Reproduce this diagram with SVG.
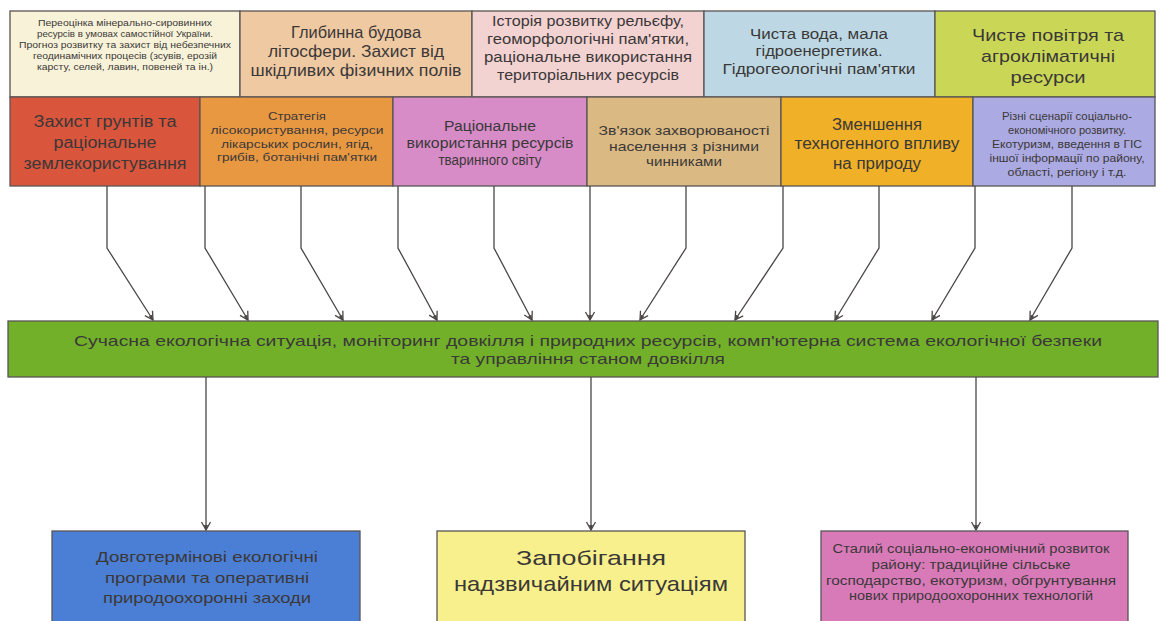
<svg xmlns="http://www.w3.org/2000/svg" width="1160" height="621" viewBox="0 0 1160 621">
<style>
text{font-family:"Liberation Sans",Arial,sans-serif;fill:#3b3838;text-anchor:middle;dominant-baseline:central}
.b{stroke:#5a5555;stroke-width:1.3}
.c{stroke:#4a4646;stroke-width:1.3;fill:none;marker-end:url(#ah)}
.s9{font-size:9.5px}.s10{font-size:10.5px}.s12{font-size:12px}.s13{font-size:13px}.s14{font-size:14px}.s15{font-size:15px}.s16{font-size:16px}.s17{font-size:17px}.s21{font-size:21px}
</style>
<defs>
<marker id="ah" markerWidth="10" markerHeight="12" refX="9" refY="6" orient="auto" markerUnits="userSpaceOnUse">
<path d="M1,1.5 L9,6 L1,10.5" fill="none" stroke="#4a4646" stroke-width="1.3"/>
<path d="M4,4 L9,6 L4,8 Z" fill="#4a4646"/>
</marker>
</defs>
<rect width="1160" height="621" fill="#ffffff"/>

<g id="t1"><rect class="b" x="10" y="11" width="230" height="86" fill="#f8f3d8"/>
<text class="s9"><tspan x="125" y="22" textLength="174" lengthAdjust="spacingAndGlyphs">Переоцінка мінерально-сировинних</tspan><tspan x="125" y="33" textLength="176" lengthAdjust="spacingAndGlyphs">ресурсів в умовах самостійної України.</tspan><tspan x="125" y="44" textLength="212" lengthAdjust="spacingAndGlyphs">Прогноз розвитку та захист від небезпечних</tspan><tspan x="125" y="55" textLength="184" lengthAdjust="spacingAndGlyphs">геодинамічних процесів (зсувів, ерозій</tspan><tspan x="125" y="66" textLength="176" lengthAdjust="spacingAndGlyphs">карсту, селей, лавин, повеней та ін.)</tspan></text></g>

<g id="t2"><rect class="b" x="240" y="11" width="232" height="86" fill="#efc9a2"/>
<text class="s17"><tspan x="356" y="32" textLength="130" lengthAdjust="spacingAndGlyphs">Глибинна будова</tspan><tspan x="356" y="51" textLength="176" lengthAdjust="spacingAndGlyphs">літосфери. Захист від</tspan><tspan x="356" y="70" textLength="211" lengthAdjust="spacingAndGlyphs">шкідливих фізичних полів</tspan></text></g>

<g id="t3"><rect class="b" x="472" y="11" width="232" height="86" fill="#f3d2d2"/>
<text class="s14"><tspan x="588" y="21" textLength="192" lengthAdjust="spacingAndGlyphs">Історія розвитку рельєфу,</tspan><tspan x="588" y="39" textLength="202" lengthAdjust="spacingAndGlyphs">геоморфологічні пам'ятки,</tspan><tspan x="588" y="57" textLength="208" lengthAdjust="spacingAndGlyphs">раціональне використання</tspan><tspan x="588" y="75" textLength="182" lengthAdjust="spacingAndGlyphs">територіальних ресурсів</tspan></text></g>

<g id="t4"><rect class="b" x="704" y="11" width="231" height="86" fill="#bdd8e4"/>
<text class="s14"><tspan x="819" y="34" textLength="138" lengthAdjust="spacingAndGlyphs">Чиста вода, мала</tspan><tspan x="819" y="51" textLength="127" lengthAdjust="spacingAndGlyphs">гідроенергетика.</tspan><tspan x="819" y="69" textLength="193" lengthAdjust="spacingAndGlyphs">Гідрогеологічні пам'ятки</tspan></text></g>

<g id="t5"><rect class="b" x="935" y="11" width="220" height="86" fill="#cad756"/>
<text class="s17"><tspan x="1048" y="35" textLength="152" lengthAdjust="spacingAndGlyphs">Чисте повітря та</tspan><tspan x="1048" y="56" textLength="134" lengthAdjust="spacingAndGlyphs">агрокліматичні</tspan><tspan x="1048" y="77" textLength="75" lengthAdjust="spacingAndGlyphs">ресурси</tspan></text></g>

<g id="m1"><rect class="b" x="10" y="97" width="190" height="89" fill="#d9553c"/>
<text class="s16"><tspan x="105" y="121" textLength="143" lengthAdjust="spacingAndGlyphs">Захист грунтів та</tspan><tspan x="105" y="142" textLength="103" lengthAdjust="spacingAndGlyphs">раціональне</tspan><tspan x="105" y="163" textLength="163" lengthAdjust="spacingAndGlyphs">землекористування</tspan></text></g>

<g id="m2"><rect class="b" x="200" y="97" width="193" height="89" fill="#e99842"/>
<text class="s10"><tspan x="297" y="116" textLength="58" lengthAdjust="spacingAndGlyphs">Стратегія</tspan><tspan x="297" y="130" textLength="173" lengthAdjust="spacingAndGlyphs">лісокористування, ресурси</tspan><tspan x="297" y="144" textLength="152" lengthAdjust="spacingAndGlyphs">лікарських рослин, ягід,</tspan><tspan x="297" y="157" textLength="160" lengthAdjust="spacingAndGlyphs">грибів, ботанічні пам'ятки</tspan></text></g>

<g id="m3"><rect class="b" x="393" y="97" width="194" height="89" fill="#d78cc8"/>
<text class="s14"><tspan x="490" y="126" textLength="92" lengthAdjust="spacingAndGlyphs">Раціональне</tspan><tspan x="490" y="143" textLength="167" lengthAdjust="spacingAndGlyphs">використання ресурсів</tspan><tspan x="490" y="160" textLength="103" lengthAdjust="spacingAndGlyphs">тваринного світу</tspan></text></g>

<g id="m4"><rect class="b" x="587" y="97" width="194" height="89" fill="#dab982"/>
<text class="s13"><tspan x="684" y="130" textLength="171" lengthAdjust="spacingAndGlyphs">Зв'язок захворюваності</tspan><tspan x="684" y="146" textLength="150" lengthAdjust="spacingAndGlyphs">населення з різними</tspan><tspan x="684" y="161" textLength="76" lengthAdjust="spacingAndGlyphs">чинниками</tspan></text></g>

<g id="m5"><rect class="b" x="781" y="97" width="192" height="89" fill="#f0b128"/>
<text class="s16"><tspan x="877" y="124" textLength="90" lengthAdjust="spacingAndGlyphs">Зменшення</tspan><tspan x="877" y="143" textLength="165" lengthAdjust="spacingAndGlyphs">техногенного впливу</tspan><tspan x="877" y="163" textLength="88" lengthAdjust="spacingAndGlyphs">на природу</tspan></text></g>

<g id="m6"><rect class="b" x="973" y="97" width="182" height="89" fill="#abaae2"/>
<text class="s10"><tspan x="1067" y="116" textLength="130" lengthAdjust="spacingAndGlyphs">Різні сценарії соціально-</tspan><tspan x="1067" y="130" textLength="118" lengthAdjust="spacingAndGlyphs">економічного розвитку.</tspan><tspan x="1067" y="144" textLength="150" lengthAdjust="spacingAndGlyphs">Екотуризм, введення в ГІС</tspan><tspan x="1067" y="158" textLength="155" lengthAdjust="spacingAndGlyphs">іншої інформації по району,</tspan><tspan x="1067" y="172" textLength="119" lengthAdjust="spacingAndGlyphs">області, регіону і т.д.</tspan></text></g>

<g id="bar"><rect class="b" x="8" y="321" width="1150" height="56" fill="#72b02a"/>
<text class="s15"><tspan x="588" y="340" textLength="1028" lengthAdjust="spacingAndGlyphs">Сучасна екологічна ситуація, моніторинг довкілля і природних ресурсів, комп'ютерна система екологічної безпеки</tspan><tspan x="588" y="358" textLength="274" lengthAdjust="spacingAndGlyphs">та управління станом довкілля</tspan></text></g>

<g id="b1"><rect class="b" x="52" y="531" width="308" height="100" fill="#4b7fd6"/>
<text class="s15"><tspan x="207" y="556" textLength="222" lengthAdjust="spacingAndGlyphs">Довготермінові екологічні</tspan><tspan x="207" y="577" textLength="204" lengthAdjust="spacingAndGlyphs">програми та оперативні</tspan><tspan x="207" y="597" textLength="208" lengthAdjust="spacingAndGlyphs">природоохоронні заходи</tspan></text></g>

<g id="b2"><rect class="b" x="437" y="531" width="308" height="100" fill="#f8f08c"/>
<text class="s21"><tspan x="591" y="557" textLength="150" lengthAdjust="spacingAndGlyphs">Запобігання</tspan><tspan x="591" y="583" textLength="274" lengthAdjust="spacingAndGlyphs">надзвичайним ситуаціям</tspan></text></g>

<g id="b3"><rect class="b" x="821" y="531" width="307" height="100" fill="#d87ab8"/>
<text class="s12"><tspan x="971" y="549" textLength="277" lengthAdjust="spacingAndGlyphs">Сталий соціально-економічний розвиток</tspan><tspan x="971" y="565" textLength="199" lengthAdjust="spacingAndGlyphs">району: традиційне сільське</tspan><tspan x="971" y="581" textLength="290" lengthAdjust="spacingAndGlyphs">господарство, екотуризм, обгрунтування</tspan><tspan x="971" y="596" textLength="244" lengthAdjust="spacingAndGlyphs">нових природоохоронних технологій</tspan></text></g>

<g id="connectors">
<path class="c" d="M107,186 L107,248 L153,320"/>
<path class="c" d="M205,186 L205,248 L248,320"/>
<path class="c" d="M301,186 L301,248 L343,320"/>
<path class="c" d="M398,186 L398,248 L437,320"/>
<path class="c" d="M494,186 L494,248 L532,320"/>
<path class="c" d="M590,186 L590,320"/>
<path class="c" d="M686,186 L686,248 L640,320"/>
<path class="c" d="M783,186 L783,248 L735,320"/>
<path class="c" d="M879,186 L879,248 L835,320"/>
<path class="c" d="M975,186 L975,248 L932,320"/>
<path class="c" d="M1072,186 L1072,248 L1030,320"/>
<path class="c" d="M206,377 L206,530"/>
<path class="c" d="M591,377 L591,530"/>
<path class="c" d="M976,377 L976,530"/>
</g>
</svg>
